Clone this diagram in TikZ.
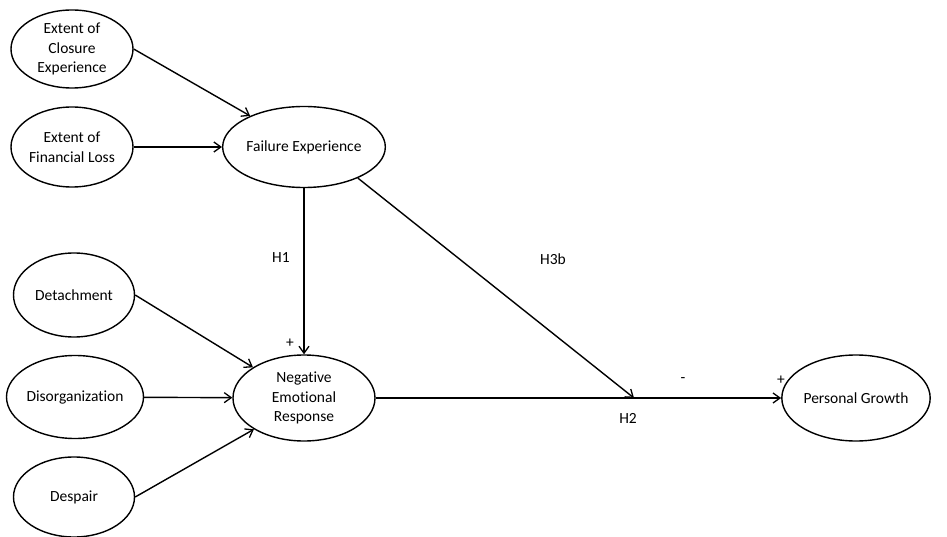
\documentclass[tikz,border=0pt]{standalone}
\usepackage{fontspec}
\setmainfont[Ligatures=NoCommon]{Carlito}
\usetikzlibrary{shapes.geometric,arrows.meta}
\begin{document}
\begin{tikzpicture}[x=1pt,y=-1pt,
  var/.style={draw,ellipse,line width=1.4pt,inner sep=0pt,align=center,font=\fontsize{15.5}{19.5}\selectfont},
  lbl/.style={font=\fontsize{15.5}{18}\selectfont,inner sep=0pt},
  conn/.style={line width=1.4pt,-{Straight Barb[length=7pt,width=10pt,line width=1.3pt]}}]
\useasboundingbox (0,0) rectangle (947,537);
\node[var,minimum width=122pt,minimum height=78pt] (closure) at (72,49) {Extent of\\Closure\\Experience};
\node[var,minimum width=122pt,minimum height=80pt] (loss) at (72,147) {Extent of\\Financial Loss};
\node[var,minimum width=141pt,minimum height=81pt] (fail) at (304,147) {Failure Experience};
\node[var,minimum width=121pt,minimum height=84pt] (det) at (74,295) {Detachment};
\node[var,minimum width=120pt,minimum height=83pt] (dis) at (75,397) {Disorganization};
\node[var,minimum width=121pt,minimum height=80pt] (desp) at (74,497) {Despair};
\node[var,minimum width=142pt,minimum height=86pt] (ner) at (304,398) {Negative\\Emotional\\Response};
\node[var,minimum width=136pt,minimum height=86pt] (pg) at (856,398) {Personal Growth};
\coordinate (m) at (634,398);
\draw[conn] (closure.east) -- (fail.150);
\draw[conn] (loss) -- (fail);
\draw[conn] (fail.south) -- (ner.north);
\draw[conn] (fail.330) -- (m);
\draw[conn] (det.east) -- (ner.149);
\draw[conn] (dis) -- (ner);
\draw[conn] (desp.east) -- (ner.212);
\draw[conn] (ner) -- (pg);
\node[lbl] (h1) at (281,258) {H1};
\node[lbl] (p1) at (290,343) {+};
\node[lbl] (h3b) at (553,259) {H3b};
\node[lbl] (minus) at (683,380) {-};
\node[lbl] (p2) at (781,380) {+};
\node[lbl] (h2) at (628,418) {H2};
\end{tikzpicture}
\end{document}
